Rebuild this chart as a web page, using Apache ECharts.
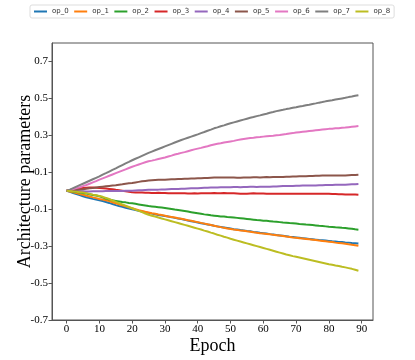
<!DOCTYPE html>
<html>
<head>
<meta charset="utf-8" />
<title>Architecture parameters</title>
<script src="https://cdn.jsdelivr.net/npm/echarts@6/dist/echarts.min.js"></script>
<style>
  html, body { margin: 0; padding: 0; background: #fff; }
  #chartmain { width: 415px; height: 360px; }
</style>
</head>
<body>
<div id="chartmain"></div>
<script type="text/javascript">
// epochs 0..89
var epochs = [];
for (var i = 0; i < 90; i++) { epochs.push(i); }

var names = ['op_0', 'op_1', 'op_2', 'op_3', 'op_4', 'op_5', 'op_6', 'op_7', 'op_8'];
var colors = ['#1f77b4', '#ff7f0e', '#2ca02c', '#d62728', '#9467bd', '#8c564b', '#e377c2', '#7f7f7f', '#bcbd22'];

var xTicks = [0, 10, 20, 30, 40, 50, 60, 70, 80, 90];
var yTicks = [-0.7, -0.5, -0.3, -0.1, 0.1, 0.3, 0.5, 0.7];

var op_0 = [
  0, -0.006, -0.012, -0.018, -0.024, -0.030, -0.035, -0.039, -0.044, -0.048,
  -0.052, -0.056, -0.061, -0.066, -0.072, -0.078, -0.083, -0.087, -0.092, -0.096,
  -0.100, -0.104, -0.108, -0.112, -0.116, -0.120, -0.124, -0.127, -0.131, -0.134,
  -0.137, -0.140, -0.143, -0.147, -0.150, -0.153, -0.157, -0.161, -0.165, -0.168,
  -0.172, -0.176, -0.179, -0.183, -0.186, -0.190, -0.193, -0.196, -0.199, -0.202,
  -0.205, -0.208, -0.210, -0.213, -0.215, -0.218, -0.220, -0.223, -0.225, -0.228,
  -0.230, -0.232, -0.235, -0.237, -0.240, -0.242, -0.244, -0.246, -0.249, -0.251,
  -0.253, -0.255, -0.257, -0.259, -0.261, -0.263, -0.265, -0.267, -0.268, -0.270,
  -0.272, -0.274, -0.275, -0.277, -0.278, -0.280, -0.281, -0.283, -0.284, -0.286
];
var op_1 = [
  0, -0.004, -0.009, -0.013, -0.018, -0.022, -0.027, -0.031, -0.036, -0.040,
  -0.045, -0.048, -0.052, -0.056, -0.062, -0.068, -0.073, -0.079, -0.084, -0.090,
  -0.095, -0.100, -0.105, -0.109, -0.114, -0.118, -0.122, -0.125, -0.129, -0.132,
  -0.135, -0.139, -0.142, -0.145, -0.149, -0.152, -0.156, -0.160, -0.163, -0.167,
  -0.170, -0.174, -0.178, -0.182, -0.186, -0.190, -0.194, -0.197, -0.201, -0.204,
  -0.207, -0.210, -0.212, -0.215, -0.217, -0.220, -0.222, -0.225, -0.227, -0.230,
  -0.232, -0.234, -0.236, -0.239, -0.241, -0.243, -0.245, -0.248, -0.250, -0.253,
  -0.255, -0.257, -0.259, -0.261, -0.263, -0.265, -0.267, -0.270, -0.272, -0.274,
  -0.276, -0.278, -0.281, -0.283, -0.285, -0.287, -0.290, -0.292, -0.295, -0.298
];
var op_2 = [
  0, -0.002, -0.004, -0.007, -0.009, -0.012, -0.015, -0.019, -0.023, -0.026,
  -0.030, -0.036, -0.042, -0.048, -0.052, -0.055, -0.058, -0.061, -0.063, -0.066,
  -0.068, -0.071, -0.074, -0.077, -0.080, -0.083, -0.085, -0.087, -0.089, -0.091,
  -0.093, -0.096, -0.099, -0.102, -0.104, -0.107, -0.110, -0.113, -0.116, -0.119,
  -0.122, -0.125, -0.128, -0.130, -0.133, -0.135, -0.137, -0.139, -0.140, -0.142,
  -0.143, -0.145, -0.147, -0.149, -0.151, -0.153, -0.155, -0.157, -0.159, -0.160,
  -0.162, -0.163, -0.165, -0.167, -0.168, -0.170, -0.172, -0.173, -0.175, -0.176,
  -0.178, -0.180, -0.181, -0.183, -0.184, -0.186, -0.188, -0.190, -0.191, -0.193,
  -0.195, -0.196, -0.198, -0.199, -0.201, -0.202, -0.204, -0.206, -0.209, -0.211
];
var op_3 = [
  0, 0.004, 0.007, 0.010, 0.012, 0.015, 0.016, 0.017, 0.017, 0.016,
  0.015, 0.014, 0.012, 0.010, 0.008, 0.005, 0.003, 0.000, -0.003, -0.005,
  -0.008, -0.009, -0.010, -0.010, -0.011, -0.011, -0.012, -0.012, -0.011, -0.012,
  -0.012, -0.013, -0.013, -0.014, -0.013, -0.014, -0.014, -0.015, -0.015, -0.014,
  -0.015, -0.014, -0.014, -0.013, -0.013, -0.012, -0.013, -0.013, -0.012, -0.013,
  -0.013, -0.014, -0.015, -0.016, -0.016, -0.016, -0.015, -0.014, -0.015, -0.015,
  -0.015, -0.016, -0.016, -0.017, -0.016, -0.016, -0.017, -0.017, -0.017, -0.016,
  -0.017, -0.017, -0.016, -0.016, -0.017, -0.017, -0.016, -0.016, -0.017, -0.017,
  -0.017, -0.018, -0.018, -0.019, -0.019, -0.020, -0.020, -0.021, -0.021, -0.022
];
var op_4 = [
  0, -0.001, -0.002, -0.002, -0.003, -0.003, -0.004, -0.004, -0.003, -0.003,
  -0.003, -0.003, -0.002, -0.002, -0.002, -0.001, -0.001, -0.001, 0.000, 0.000,
  0.000, 0.001, 0.002, 0.003, 0.004, 0.005, 0.005, 0.006, 0.006, 0.007,
  0.007, 0.008, 0.009, 0.009, 0.010, 0.011, 0.011, 0.012, 0.013, 0.013,
  0.014, 0.015, 0.016, 0.016, 0.017, 0.018, 0.018, 0.019, 0.019, 0.019,
  0.019, 0.020, 0.020, 0.019, 0.020, 0.020, 0.021, 0.021, 0.020, 0.021,
  0.021, 0.022, 0.022, 0.023, 0.023, 0.024, 0.025, 0.025, 0.026, 0.026,
  0.027, 0.027, 0.028, 0.028, 0.029, 0.029, 0.029, 0.030, 0.030, 0.031,
  0.031, 0.031, 0.032, 0.032, 0.033, 0.033, 0.034, 0.035, 0.035, 0.036
];
var op_5 = [
  0, 0.002, 0.003, 0.005, 0.006, 0.008, 0.011, 0.013, 0.015, 0.018,
  0.020, 0.022, 0.024, 0.026, 0.028, 0.030, 0.033, 0.035, 0.038, 0.040,
  0.042, 0.045, 0.048, 0.051, 0.053, 0.055, 0.057, 0.058, 0.059, 0.059,
  0.060, 0.061, 0.062, 0.062, 0.063, 0.064, 0.065, 0.065, 0.066, 0.066,
  0.067, 0.068, 0.069, 0.069, 0.070, 0.071, 0.072, 0.072, 0.071, 0.072,
  0.072, 0.071, 0.070, 0.070, 0.071, 0.071, 0.072, 0.073, 0.073, 0.072,
  0.073, 0.074, 0.073, 0.074, 0.075, 0.074, 0.075, 0.076, 0.076, 0.077,
  0.077, 0.078, 0.078, 0.079, 0.080, 0.080, 0.081, 0.081, 0.082, 0.082,
  0.082, 0.083, 0.082, 0.083, 0.083, 0.083, 0.084, 0.085, 0.085, 0.086
];
var op_6 = [
  0, 0.004, 0.009, 0.014, 0.019, 0.025, 0.031, 0.038, 0.045, 0.052,
  0.060, 0.067, 0.074, 0.081, 0.088, 0.095, 0.102, 0.109, 0.116, 0.123,
  0.130, 0.136, 0.142, 0.148, 0.154, 0.160, 0.163, 0.167, 0.172, 0.176,
  0.180, 0.185, 0.190, 0.196, 0.200, 0.205, 0.209, 0.214, 0.219, 0.224,
  0.228, 0.232, 0.237, 0.241, 0.246, 0.250, 0.254, 0.257, 0.261, 0.264,
  0.267, 0.270, 0.274, 0.277, 0.280, 0.283, 0.285, 0.287, 0.290, 0.291,
  0.293, 0.295, 0.297, 0.298, 0.300, 0.302, 0.305, 0.307, 0.310, 0.312,
  0.315, 0.317, 0.319, 0.321, 0.323, 0.325, 0.327, 0.329, 0.331, 0.333,
  0.335, 0.336, 0.338, 0.339, 0.341, 0.342, 0.344, 0.346, 0.348, 0.350
];
var op_7 = [
  0, 0.006, 0.014, 0.022, 0.030, 0.038, 0.046, 0.054, 0.062, 0.070,
  0.078, 0.087, 0.095, 0.104, 0.113, 0.121, 0.130, 0.139, 0.148, 0.156,
  0.165, 0.173, 0.181, 0.189, 0.197, 0.205, 0.212, 0.219, 0.226, 0.233,
  0.240, 0.247, 0.254, 0.261, 0.268, 0.275, 0.281, 0.287, 0.293, 0.299,
  0.305, 0.312, 0.318, 0.325, 0.331, 0.338, 0.343, 0.349, 0.354, 0.360,
  0.365, 0.370, 0.375, 0.380, 0.385, 0.390, 0.395, 0.399, 0.404, 0.408,
  0.413, 0.417, 0.422, 0.426, 0.431, 0.435, 0.438, 0.442, 0.445, 0.449,
  0.452, 0.456, 0.459, 0.463, 0.466, 0.470, 0.473, 0.477, 0.480, 0.484,
  0.487, 0.490, 0.494, 0.497, 0.500, 0.503, 0.507, 0.510, 0.514, 0.517
];
var op_8 = [
  0, -0.002, -0.004, -0.006, -0.008, -0.010, -0.013, -0.017, -0.021, -0.024,
  -0.028, -0.033, -0.039, -0.045, -0.053, -0.060, -0.067, -0.074, -0.081, -0.088,
  -0.095, -0.102, -0.109, -0.116, -0.123, -0.130, -0.135, -0.140, -0.145, -0.150,
  -0.155, -0.160, -0.165, -0.170, -0.175, -0.180, -0.185, -0.190, -0.195, -0.200,
  -0.205, -0.210, -0.216, -0.221, -0.227, -0.232, -0.238, -0.243, -0.249, -0.254,
  -0.260, -0.265, -0.270, -0.275, -0.280, -0.285, -0.290, -0.295, -0.300, -0.305,
  -0.310, -0.315, -0.320, -0.325, -0.330, -0.335, -0.340, -0.345, -0.349, -0.354,
  -0.358, -0.362, -0.366, -0.370, -0.374, -0.378, -0.382, -0.386, -0.390, -0.394,
  -0.398, -0.401, -0.405, -0.408, -0.412, -0.415, -0.419, -0.423, -0.428, -0.433
];
var seriesData = [op_0, op_1, op_2, op_3, op_4, op_5, op_6, op_7, op_8];

var serif = 'Liberation Serif';
var spine = '#555555';

var myChart = echarts.init(document.getElementById('chartmain'), null, { renderer: 'canvas' });

var series = [];
for (var s = 0; s < names.length; s++) {
  var pts = [];
  for (var k = 0; k < epochs.length; k++) { pts.push([epochs[k], seriesData[s][k]]); }
  series.push({
    name: names[s],
    type: 'line',
    data: pts,
    showSymbol: false,
    symbol: 'none',
    lineStyle: { color: colors[s], width: 2 },
    itemStyle: { color: colors[s] }
  });
}

var option = {
  backgroundColor: '#ffffff',
  animation: false,
  color: colors,
  legend: {
    data: names,
    left: 30,
    top: 5,
    width: 380,
    padding: [3, 4],
    itemWidth: 13,
    itemHeight: 2,
    itemGap: 5.5,
    icon: 'rect',
    borderColor: '#dddddd',
    borderWidth: 1,
    borderRadius: 2,
    textStyle: { fontFamily: 'DejaVu Sans', fontSize: 7, color: '#333' }
  },
  grid: {
    left: 52, right: 42, top: 43, bottom: 40,
    outerBoundsMode: 'none',
    containLabel: false,
    show: true, borderColor: spine, borderWidth: 1, backgroundColor: 'transparent'
  },
  xAxis: {
    type: 'value',
    min: -4.45,
    max: 93.45,
    name: 'Epoch',
    nameLocation: 'middle',
    nameGap: 17,
    nameMoveOverlap: false,
    nameTextStyle: { fontFamily: serif, fontSize: 18, color: '#000', verticalAlign: 'top' },
    splitLine: { show: false },
    axisLine: { show: true, onZero: false, lineStyle: { color: spine, width: 1 } },
    axisTick: { show: true, inside: false, length: 3.5, customValues: xTicks, lineStyle: { color: spine } },
    axisLabel: {
      customValues: xTicks,
      margin: 4,
      fontFamily: serif, fontSize: 11, color: '#000'
    }
  },
  yAxis: {
    type: 'value',
    min: -0.7,
    max: 0.8,
    name: 'Architecture parameters',
    nameLocation: 'middle',
    nameGap: 18,
    nameMoveOverlap: false,
    nameTextStyle: { fontFamily: serif, fontSize: 18, color: '#000' },
    splitLine: { show: false },
    axisLine: { show: true, onZero: false, lineStyle: { color: spine, width: 1 } },
    axisTick: { show: true, inside: false, length: 3.5, customValues: yTicks, lineStyle: { color: spine } },
    axisLabel: {
      customValues: yTicks,
      margin: 4,
      fontFamily: serif, fontSize: 11, color: '#000',
      formatter: function (v) { return v.toFixed(1); }
    }
  },
  series: series
};
myChart.setOption(option);
</script>
</body>
</html>
